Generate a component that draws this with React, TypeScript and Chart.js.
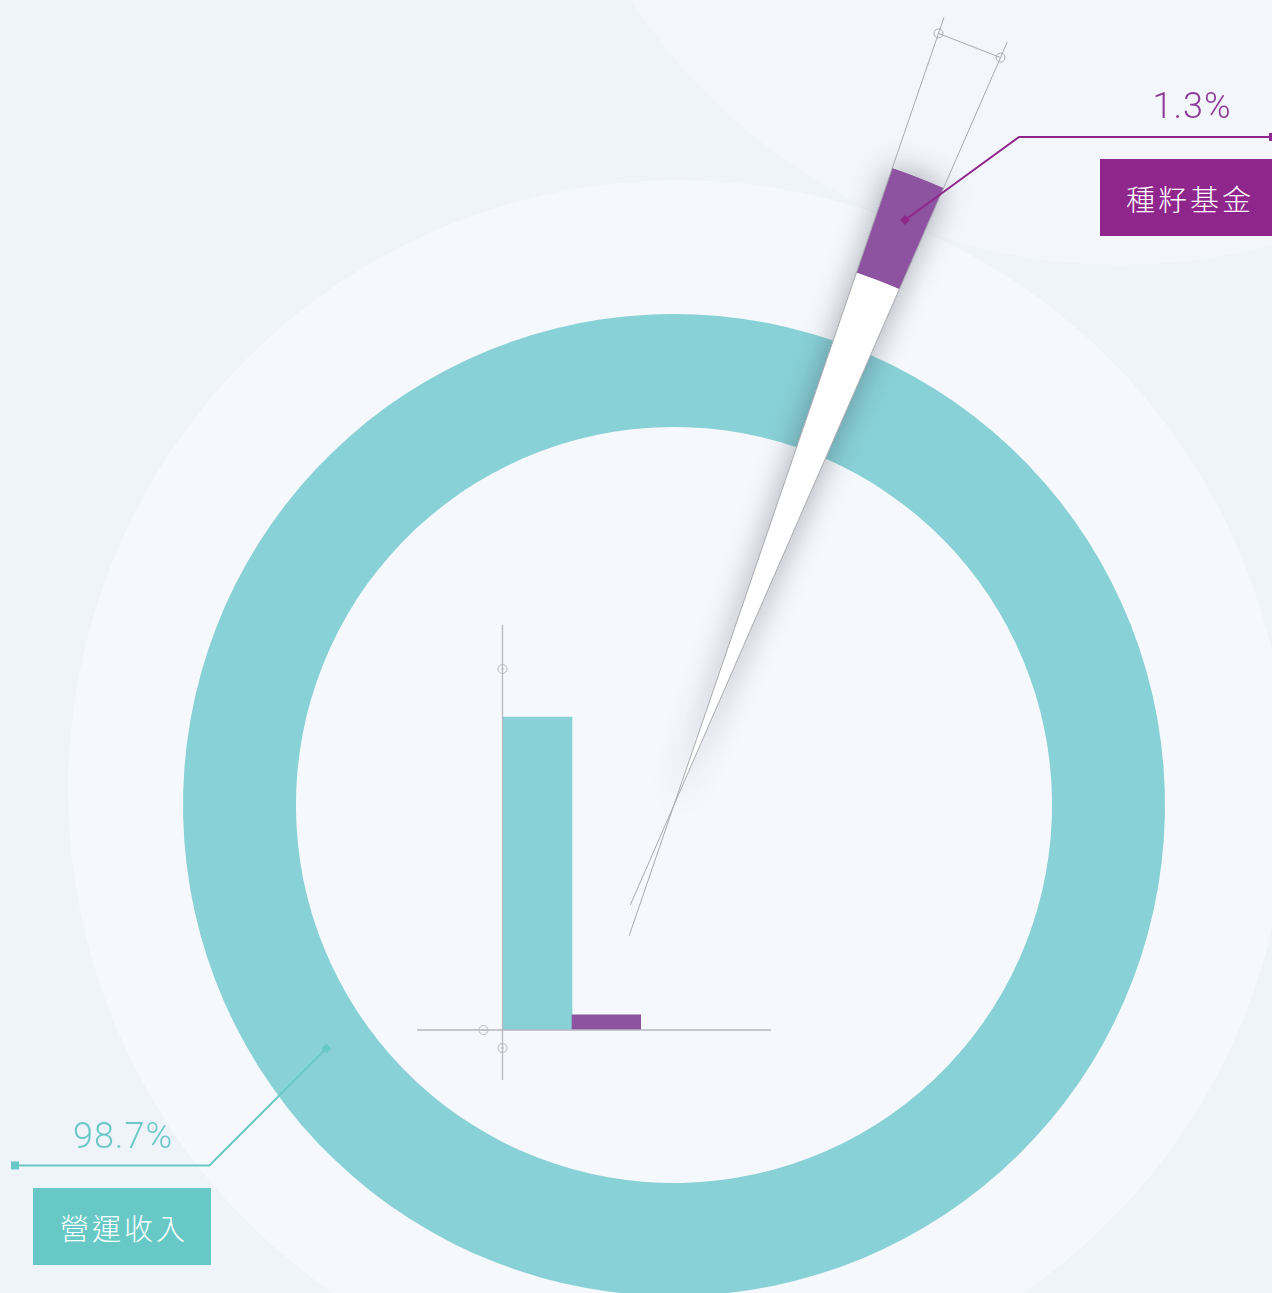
import React, { useEffect, useRef } from 'react';
import { Chart, registerables } from 'chart.js';

Chart.register(...registerables);

// ---- data ----
const categories = ['營運收入', '種籽基金'];
const shareValues = [98.7, 1.3];
const shareLabels = ['98.7%', '1.3%'];
// heights of the small bar sketch in the middle (read on a 0–100 axis)
const barValues = [86.7, 4.2];
const barAxisMin = 0;
const barAxisMax = 100;

// ---- style ----
const TEAL = '#88D1D6';
const PURPLE = '#8D52A0';
const BOX_TEAL = '#68C8C6';
const BOX_PURPLE = '#8E268C';
const TEXT_TEAL = '#6CC8C8';
const TEXT_PURPLE = '#8E3C97';
const GUIDE = '#A9A9B1';
const AXIS = '#B8B8C0';
const CLEAR = 'rgba(0,0,0,0)';
const ROTATION = 23.6;

const W = 1272;
const H = 1293;
// doughnut canvas placement (page px)
const RING_LEFT = 1;
const RING_TOP = 132;
const RING_SIZE = 1346;
// wedge canvas is taller so the guide marks above the tip fit
const WEDGE_TOP = 0;
const WEDGE_H = RING_SIZE + (RING_TOP - WEDGE_TOP);
// bar canvas placement
const BAR_LEFT = 400;
const BAR_TOP = 600;
const BAR_W = 400;
const BAR_H = 500;

const NUM_FONT = "Roboto, 'Noto Sans', sans-serif";
const CJK_FONT = "'Noto Sans CJK TC', 'Noto Sans CJK SC', sans-serif";

function drawDiamond(ctx: CanvasRenderingContext2D, x: number, y: number, s: number) {
  ctx.save();
  ctx.translate(x, y);
  ctx.rotate(Math.PI / 4);
  ctx.fillRect(-s / 2, -s / 2, s, s);
  ctx.restore();
}

const ringLeader = {
  id: 'ringLeader',
  afterDatasetsDraw(chart: any) {
    const arc = chart.getDatasetMeta(0).data[0];
    if (!arc) return;
    const { x, y, innerRadius, outerRadius } = arc.getProps(['x', 'y', 'innerRadius', 'outerRadius'], true);
    const ctx: CanvasRenderingContext2D = chart.ctx;
    const a = ((235 - 90) * Math.PI) / 180;
    const r = innerRadius + 0.41 * (outerRadius - innerRadius);
    const ax = x + r * Math.cos(a);
    const ay = y + r * Math.sin(a);
    const ex = ax - 117;
    const ey = ay + 117;
    const endX = 15 - RING_LEFT;
    ctx.save();
    ctx.strokeStyle = BOX_TEAL;
    ctx.fillStyle = BOX_TEAL;
    ctx.lineWidth = 2;
    ctx.beginPath();
    ctx.moveTo(ax, ay);
    ctx.lineTo(ex, ey);
    ctx.lineTo(endX, ey);
    ctx.stroke();
    drawDiamond(ctx, ax, ay, 7);
    ctx.fillRect(endX - 4, ey - 4, 8, 8);
    ctx.restore();
  },
};

const wedgeDecor = {
  id: 'wedgeDecor',
  beforeDatasetsDraw(chart: any) {
    const ctx: CanvasRenderingContext2D = chart.ctx;
    ctx.save();
    ctx.shadowColor = 'rgba(50,50,70,0.42)';
    ctx.shadowBlur = 30;
    for (let i = chart.data.datasets.length - 1; i >= 0; i--) {
      const arc = chart.getDatasetMeta(i).data[1];
      if (arc) arc.draw(ctx);
    }
    ctx.restore();
  },
  afterDatasetsDraw(chart: any) {
    const arc = chart.getDatasetMeta(0).data[1];
    if (!arc) return;
    const { x, y, startAngle, endAngle, innerRadius, outerRadius } = arc.getProps(
      ['x', 'y', 'startAngle', 'endAngle', 'innerRadius', 'outerRadius'],
      true
    );
    const R = outerRadius;
    const ctx: CanvasRenderingContext2D = chart.ctx;
    const pt = (r: number, a: number) => [x + r * Math.cos(a), y + r * Math.sin(a)];
    ctx.save();
    ctx.strokeStyle = GUIDE;
    ctx.lineWidth = 1;
    const seg = (p: number[], q: number[]) => {
      ctx.beginPath();
      ctx.moveTo(p[0], p[1]);
      ctx.lineTo(q[0], q[1]);
      ctx.stroke();
    };
    seg(pt(-0.205 * R, startAngle), pt(1.237 * R, startAngle));
    seg(pt(-0.162 * R, endAngle), pt(1.237 * R, endAngle));
    const c1 = pt(1.212 * R, startAngle);
    const c2 = pt(1.212 * R, endAngle);
    seg(c1, c2);
    for (const c of [c1, c2]) {
      ctx.beginPath();
      ctx.arc(c[0], c[1], 4.5, 0, Math.PI * 2);
      ctx.stroke();
    }

    // purple leader line
    const mid = (startAngle + endAngle) / 2 + 0.005;
    const anchor = pt(innerRadius + 0.6 * (outerRadius - innerRadius), mid);
    const ex = anchor[0] + 114;
    const ey = anchor[1] - 83;
    const endX = W - RING_LEFT;
    ctx.strokeStyle = BOX_PURPLE;
    ctx.fillStyle = BOX_PURPLE;
    ctx.lineWidth = 2;
    ctx.beginPath();
    ctx.moveTo(anchor[0], anchor[1]);
    ctx.lineTo(ex, ey);
    ctx.lineTo(endX, ey);
    ctx.stroke();
    drawDiamond(ctx, anchor[0], anchor[1], 7);
    ctx.fillRect(endX - 3, ey - 4, 8, 8);
    ctx.restore();
  },
};

const barAxes = {
  id: 'barAxes',
  afterDatasetsDraw(chart: any) {
    const { ctx, chartArea, scales } = chart;
    const y0 = scales.y.getPixelForValue(barAxisMin);
    const yTop = scales.y.getPixelForValue(barAxisMax);
    const left = chartArea.left - 0.5;
    ctx.save();
    ctx.strokeStyle = AXIS;
    ctx.lineWidth = 1.3;
    ctx.beginPath();
    ctx.moveTo(left, chartArea.top - 44);
    ctx.lineTo(left, chartArea.bottom + 50);
    ctx.moveTo(chartArea.left - 86, y0);
    ctx.lineTo(chartArea.right + 130, y0);
    ctx.stroke();
    ctx.lineWidth = 1;
    for (const c of [
      [left, yTop],
      [left, y0 + 18],
      [left - 19, y0],
    ]) {
      ctx.beginPath();
      ctx.arc(c[0], c[1], 4.5, 0, Math.PI * 2);
      ctx.stroke();
      ctx.fillStyle = AXIS;
      ctx.fillRect(c[0] - 1, c[1] - 1, 2, 2);
    }
    ctx.restore();
  },
};

export default function App() {
  const ringRef = useRef<HTMLCanvasElement>(null);
  const wedgeRef = useRef<HTMLCanvasElement>(null);
  const barRef = useRef<HTMLCanvasElement>(null);

  useEffect(() => {
    const common = {
      responsive: false,
      animation: false as const,
      events: [] as any[],
      plugins: { legend: { display: false }, tooltip: { enabled: false } },
    };

    const ring = new Chart(ringRef.current!, {
      type: 'doughnut',
      data: {
        labels: categories,
        datasets: [{ data: shareValues, backgroundColor: [TEAL, CLEAR], borderWidth: 0 }],
      },
      options: { ...common, rotation: ROTATION, radius: 491, cutout: '77%' } as any,
      plugins: [ringLeader],
    });

    const wedge = new Chart(wedgeRef.current!, {
      type: 'doughnut',
      data: {
        labels: categories,
        datasets: [
          { data: shareValues, backgroundColor: [CLEAR, PURPLE], borderWidth: 0, weight: 110 },
          { data: shareValues, backgroundColor: [CLEAR, '#FFFFFF'], borderWidth: 0, weight: 563 },
        ],
      },
      options: {
        ...common,
        rotation: ROTATION,
        radius: '100%',
        cutout: 0,
        layout: { padding: { top: RING_TOP - WEDGE_TOP, left: 0, right: 0, bottom: 0 } },
      } as any,
      plugins: [wedgeDecor],
    });

    const bars = new Chart(barRef.current!, {
      type: 'bar',
      data: {
        labels: categories,
        datasets: [
          {
            data: barValues,
            backgroundColor: [TEAL, PURPLE],
            borderWidth: 0,
            barPercentage: 1,
            categoryPercentage: 1,
          },
        ],
      },
      options: {
        ...common,
        layout: { padding: { left: 103, right: 159, top: 69, bottom: 70 } },
        scales: {
          x: { display: false },
          y: { display: false, min: barAxisMin, max: barAxisMax },
        },
      } as any,
      plugins: [barAxes],
    });

    return () => {
      ring.destroy();
      wedge.destroy();
      bars.destroy();
    };
  }, []);

  const abs = (l: number, t: number, w: number, h: number): React.CSSProperties => ({
    position: 'absolute',
    left: l,
    top: t,
    width: w,
    height: h,
  });

  return (
    <div
      style={{
        position: 'absolute',
        left: 0,
        top: 0,
        width: W,
        height: H,
        overflow: 'hidden',
        background: '#EFF3FA',
      }}
    >
      <div style={{ ...abs(1120 - 585, -320 - 585, 1170, 1170), borderRadius: '50%', background: '#F3F6FB' }} />
      <div style={{ ...abs(678 - 610, 790 - 610, 1220, 1220), borderRadius: '50%', background: '#F5F8FC' }} />
      <canvas ref={barRef} width={BAR_W} height={BAR_H} style={{ ...abs(BAR_LEFT, BAR_TOP, BAR_W, BAR_H) }} />
      <canvas ref={ringRef} width={RING_SIZE} height={RING_SIZE} style={{ ...abs(RING_LEFT, RING_TOP, RING_SIZE, RING_SIZE) }} />
      <canvas ref={wedgeRef} width={RING_SIZE} height={WEDGE_H} style={{ ...abs(RING_LEFT, WEDGE_TOP, RING_SIZE, WEDGE_H) }} />

      <div
        style={{
          ...abs(1112, 88, 160, 36),
          textAlign: 'center',
          color: TEXT_PURPLE,
          fontFamily: NUM_FONT,
          fontWeight: 300,
          fontSize: 36,
          lineHeight: '36px',
          letterSpacing: 1,
        }}
      >
        {shareLabels[1]}
      </div>
      <div
        style={{
          ...abs(1100, 159, 172, 77),
          boxSizing: 'border-box',
          paddingLeft: 8,
          background: BOX_PURPLE,
          color: '#FFFFFF',
          display: 'flex',
          alignItems: 'center',
          justifyContent: 'center',
          fontFamily: CJK_FONT,
          fontWeight: 300,
          fontSize: 29,
          letterSpacing: 3,
        }}
      >
        {categories[1]}
      </div>

      <div
        style={{
          ...abs(43, 1118, 160, 36),
          textAlign: 'center',
          color: TEXT_TEAL,
          fontFamily: NUM_FONT,
          fontWeight: 300,
          fontSize: 36,
          lineHeight: '36px',
          letterSpacing: 1,
        }}
      >
        {shareLabels[0]}
      </div>
      <div
        style={{
          ...abs(33, 1188, 178, 77),
          boxSizing: 'border-box',
          paddingLeft: 4,
          background: BOX_TEAL,
          color: '#FFFFFF',
          display: 'flex',
          alignItems: 'center',
          justifyContent: 'center',
          fontFamily: CJK_FONT,
          fontWeight: 300,
          fontSize: 29,
          letterSpacing: 3,
        }}
      >
        {categories[0]}
      </div>
    </div>
  );
}
